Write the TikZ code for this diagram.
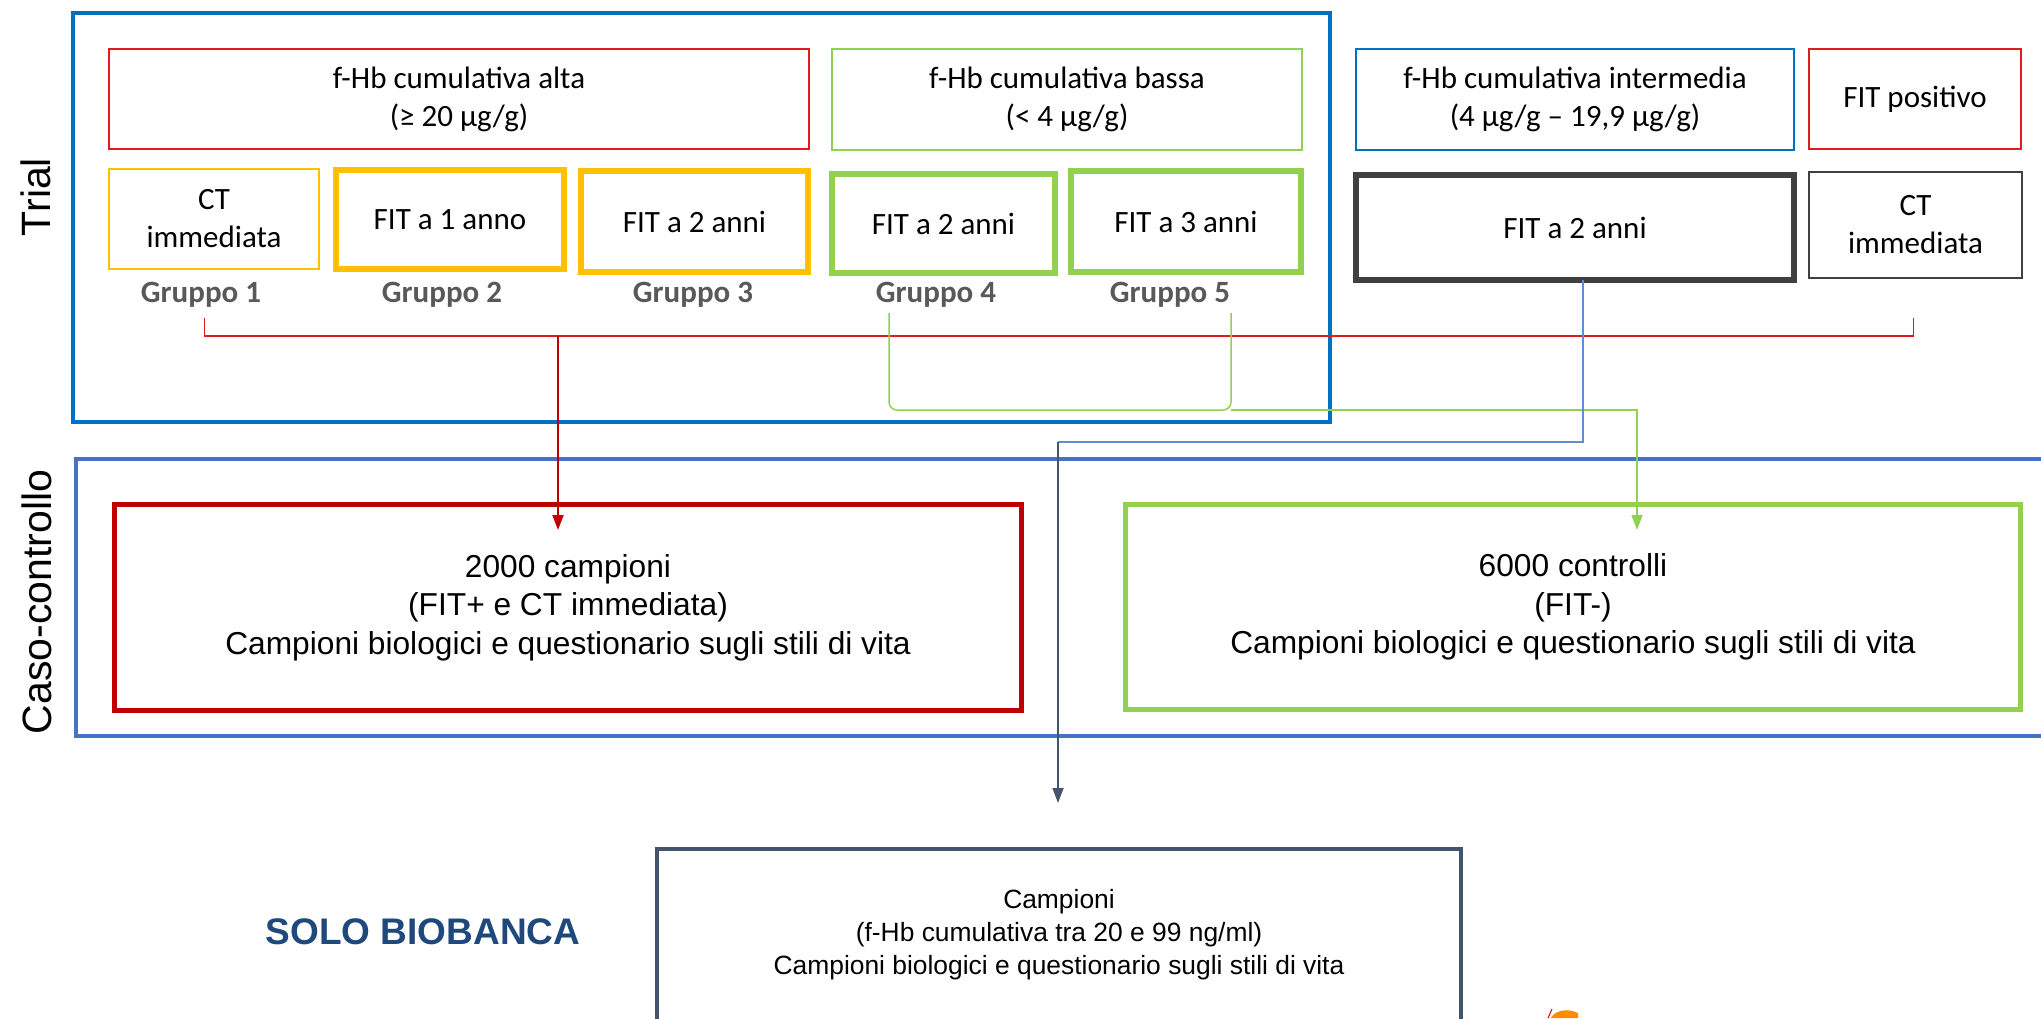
\documentclass[tikz,border=0pt]{standalone}
\usepackage{fontspec}
\setmainfont{Carlito}
\newfontfamily\arialfont{Liberation Sans}
\usetikzlibrary{arrows.meta,positioning,calc}
\definecolor{trialblue}{HTML}{0070C0}
\definecolor{caseblue}{HTML}{4472C4}
\definecolor{fitred}{HTML}{E01B1B}
\definecolor{darkred}{HTML}{C00000}
\definecolor{fityellow}{HTML}{FFC000}
\definecolor{fitgreen}{HTML}{92D050}
\definecolor{fitgray}{HTML}{404040}
\definecolor{slate}{HTML}{44546A}
\definecolor{linkblue}{HTML}{5B8FD0}
\definecolor{labelgray}{HTML}{595959}
\definecolor{biobankblue}{HTML}{1F497D}
\tikzset{
header/.style={draw=#1, line width=2pt, inner sep=0pt, outer sep=0pt, align=center},
armbox/.style={draw=#1, line width=6pt, inner sep=0pt, outer sep=0pt, align=center},
bigbox/.style={draw=#1, line width=5pt, inner sep=0pt, outer sep=0pt, align=center,
    font=\arialfont\fontsize{31.7}{38.5}\selectfont},
gruppo/.style={font=\bfseries\fontsize{31}{38}\selectfont, text=labelgray},
sidelabel/.style={rotate=90, font=\arialfont\fontsize{41}{48}\selectfont},
arr/.style={-{Triangle[length=15pt,width=11pt]}},
}
\tikzstyle{every node}=[font=\fontsize{31}{38}\selectfont]

\begin{document}
\begin{tikzpicture}[
            x=1pt, y=-1pt,
            bracket/.style={line width=1.5pt}
        ]
        \useasboundingbox (0,0) rectangle (2041,1018);
        \clip (0,0) rectangle (2041,1018);

        % frames
        \draw[trialblue, line width=4.5pt] (73,13) rectangle (1330,422);
        \draw[caseblue, line width=4pt] (76,459) rectangle (2070,736);
        \node[sidelabel] (TR) at (36,197) {Trial};
        \node[sidelabel] (CS) at (37,602) {Caso-controllo};

        % f-Hb classes
        \node[header=fitred, minimum width=700pt, minimum height=100pt] (HA) at (459,99)
            {f-Hb cumulativa alta\\(≥ 20 µg/g)};
        \node[header=fitgreen, minimum width=470pt, minimum height=101pt] (HB) at (1067,99.5)
            {f-Hb cumulativa bassa\\(< 4 µg/g)};
        \node[header=trialblue, minimum width=438pt, minimum height=101pt] (HI) at (1575,99.5)
            {f-Hb cumulativa intermedia\\(4 µg/g – 19,9 µg/g)};
        \node[header=fitred, minimum width=212pt, minimum height=100pt] (HP) at (1915,99)
            {FIT positivo};

        % arms
        \node[header=fityellow, minimum width=210pt, minimum height=100pt] (C1) at (214,219)
            {CT\\immediata};
        \node[armbox=fityellow, minimum width=228pt, minimum height=99pt] (C2) at (450,219.5)
            {FIT a 1 anno};
        \node[armbox=fityellow, minimum width=227pt, minimum height=101pt] (C3) at (694.5,221.5)
            {FIT a 2 anni};
        \node[armbox=fitgreen, line width=5.5pt, minimum width=223pt, minimum height=99pt] (C4) at (943.5,223.5)
            {FIT a 2 anni};
        \node[armbox=fitgreen, line width=5.5pt, minimum width=230pt, minimum height=101pt] (C5) at (1186,221.5)
            {FIT a 3 anni};
        \node[armbox=fitgray, line width=6.5pt, minimum width=438pt, minimum height=105pt] (FI) at (1575,227.5)
            {FIT a 2 anni};
        \node[header=fitgray, line width=2.5pt, minimum width=213pt, minimum height=106pt] (CP) at (1915.5,225)
            {CT\\immediata};

        \node[gruppo] (G1) at (201,295) {Gruppo 1};
        \node[gruppo] (G2) at (442,295) {Gruppo 2};
        \node[gruppo] (G3) at (693,295) {Gruppo 3};
        \node[gruppo] (G4) at (936,295) {Gruppo 4};
        \node[gruppo] (G5) at (1170,295) {Gruppo 5};

        % case-control
        \node[bigbox=darkred, minimum width=907pt, minimum height=206pt] (CC) at (568,607.5)
            {2000 campioni\\(FIT+ e CT immediata)\\Campioni biologici e questionario sugli stili di vita};
        \node[bigbox=fitgreen, minimum width=895pt, minimum height=205pt] (CO) at (1573,607)
            {6000 controlli\\(FIT-)\\Campioni biologici e questionario sugli stili di vita};

        % biobank
        \node[bigbox=slate, line width=4.5pt, minimum width=804pt, minimum height=172pt,
            font=\arialfont\fontsize{26.4}{33}\selectfont] (BB) at (1059,935)
            {Campioni\\(f-Hb cumulativa tra 20 e 99 ng/ml)\\Campioni biologici e questionario sugli stili di vita};
        \node[font=\arialfont\bfseries\fontsize{37}{44}\selectfont, text=biobankblue] (SB) at (423,932)
            {SOLO BIOBANCA};

        % connectors
        \coordinate (RL) at (204.5,318);
        \coordinate (RR) at (1913.5,318);
        \coordinate (RA) at (558,336);
        \coordinate (RT) at (558,530);
        \draw[bracket, fitred] (RL) -- ++(0,18) -| (RR);
        \draw[arr, darkred, line width=2pt] (RA) -- (RT);

        \coordinate (GL) at (889,313);
        \coordinate (GR) at (1231,313);
        \coordinate (GM) at (1231,410);
        \coordinate (GT) at (1637,530);
        \draw[bracket, fitgreen, rounded corners=8pt] (GL) |- (GM) -- (GR);
        \draw[arr, bracket, fitgreen] (GM) -| (GT);

        \coordinate (BC) at (1058,442);
        \coordinate (BT) at (1058,803);
        \draw[bracket, linkblue] ($(FI.south)+(8,0)$) |- (BC);
        \draw[arr, bracket, slate] (BC) -- (BT);

        % logo edge
        \draw[red!80!black, line width=1pt] (1548,1018) -- (1552,1009);
        \fill[orange!90!yellow] (1551,1018) .. controls (1555,1010) and (1568,1008) .. (1578,1013) -- (1578,1018) -- cycle;
    \end{tikzpicture}
\end{document}
